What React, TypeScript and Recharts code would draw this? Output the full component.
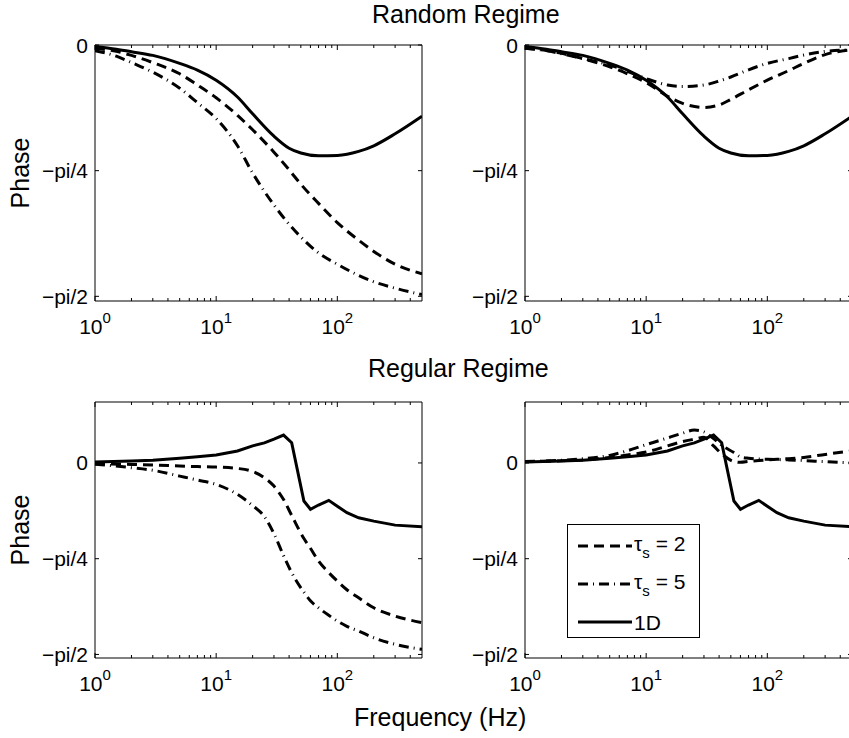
import React from 'react';
import { LineChart, Line, XAxis, YAxis, Legend } from 'recharts';

// frequencies (Hz) sampled on each regime's curves
const randomFreq = [1, 1.5, 2, 3, 5, 7, 10, 15, 20, 30, 40, 50, 70, 100, 150, 200, 300, 500];
const random1D = [-0.01, -0.027, -0.042, -0.065, -0.115, -0.157, -0.22, -0.325, -0.43, -0.57, -0.645, -0.675, -0.692, -0.69, -0.665, -0.63, -0.555, -0.445];
const randomLeftTau2 = [-0.02, -0.04, -0.065, -0.11, -0.18, -0.25, -0.33, -0.44, -0.53, -0.67, -0.78, -0.87, -0.99, -1.11, -1.22, -1.29, -1.37, -1.43];
const randomLeftTau5 = [-0.035, -0.07, -0.11, -0.17, -0.27, -0.36, -0.46, -0.63, -0.8, -1.0, -1.12, -1.2, -1.3, -1.37, -1.44, -1.48, -1.52, -1.56];
const randomRightTau2 = [-0.02, -0.035, -0.052, -0.085, -0.136, -0.18, -0.235, -0.32, -0.365, -0.39, -0.375, -0.34, -0.28, -0.22, -0.16, -0.115, -0.06, -0.03];
const randomRightTau5 = [-0.02, -0.035, -0.055, -0.085, -0.125, -0.165, -0.21, -0.25, -0.26, -0.25, -0.225, -0.2, -0.155, -0.115, -0.085, -0.063, -0.04, -0.03];

const regularFreq = [1, 2, 3, 5, 7, 10, 15, 20, 25, 30, 36, 42, 53, 60, 70, 85, 100, 120, 150, 200, 300, 500];
const regular1D = [0.007, 0.015, 0.022, 0.038, 0.05, 0.065, 0.098, 0.14, 0.165, 0.195, 0.229, 0.166, -0.312, -0.38, -0.345, -0.307, -0.355, -0.408, -0.45, -0.477, -0.51, -0.523];
const regularLeftTau2 = [-0.006, -0.012, -0.017, -0.025, -0.03, -0.034, -0.045, -0.07, -0.121, -0.19, -0.3, -0.43, -0.62, -0.7, -0.805, -0.9, -0.969, -1.04, -1.106, -1.188, -1.256, -1.31];
const regularLeftTau5 = [-0.01, -0.039, -0.06, -0.108, -0.14, -0.176, -0.258, -0.35, -0.44, -0.58, -0.76, -0.9, -1.06, -1.13, -1.188, -1.25, -1.297, -1.34, -1.379, -1.434, -1.488, -1.529];
const regularRightTau2 = [0.01, 0.018, 0.025, 0.045, 0.065, 0.09, 0.14, 0.175, 0.195, 0.21, 0.14, 0.075, 0.012, 0.005, 0.012, 0.02, 0.025, 0.03, 0.035, 0.045, 0.07, 0.1];
const regularRightTau5 = [0.012, 0.022, 0.035, 0.062, 0.1, 0.15, 0.205, 0.245, 0.27, 0.255, 0.2, 0.145, 0.085, 0.05, 0.038, 0.032, 0.03, 0.028, 0.025, 0.02, 0.01, 0.0];

const seriesOrder = ['tau2', 'tau5', 'd1'];
const seriesNames = { tau2: 'τs = 2', tau5: 'τs = 5', d1: '1D' };

const freqTicks = [1, 2, 3, 4, 5, 6, 7, 8, 9, 10, 20, 30, 40, 50, 60, 70, 80, 90, 100, 200, 300, 400];
const majorFreqTicks = [1, 10, 100];
const phaseTicks = [-Math.PI / 2, -Math.PI / 4, 0];
const phaseTickLabels = ['−pi/2', '−pi/4', '0'];

const FONT = '"Liberation Sans", Arial, Helvetica, sans-serif';
const BOX_W = 327;
const BOX_H = 256;
const LEFT_W = 95;

const rows = (freq: number[], tau2: number[], tau5: number[], d1: number[]) =>
  freq.map((f, i) => ({ f, tau2: tau2[i], tau5: tau5[i], d1: d1[i] }));

const BottomTick = ({ x, y, payload }: any) => {
  const major = majorFreqTicks.includes(payload.value);
  return (
    <g>
      <line x1={x} y1={y} x2={x} y2={y - (major ? 5 : 3)} stroke="#000" />
      {major && (
        <text x={x} y={y + 33} textAnchor="middle" fontSize={21} fontFamily={FONT} fill="#000">
          10<tspan dy={-11} fontSize={15}>{Math.round(Math.log10(payload.value))}</tspan>
        </text>
      )}
    </g>
  );
};

const TopTick = ({ x, y, payload }: any) => {
  const major = majorFreqTicks.includes(payload.value);
  return <line x1={x} y1={y} x2={x} y2={y + (major ? 5 : 3)} stroke="#000" />;
};

const LeftTick = ({ x, y, payload }: any) => {
  const i = phaseTicks.findIndex((t) => Math.abs(t - payload.value) < 1e-9);
  return (
    <g>
      <line x1={x} y1={y} x2={x + 4} y2={y} stroke="#000" />
      <text x={x - 7} y={y} textAnchor="end" dominantBaseline="central" fontSize={21} fontFamily={FONT} fill="#000">
        {phaseTickLabels[i]}
      </text>
    </g>
  );
};

const RightTick = ({ x, y }: any) => <line x1={x} y1={y} x2={x - 4} y2={y} stroke="#000" />;

const PhaseLabel = ({ viewBox }: any) => {
  const cx = 29;
  const cy = viewBox.y + viewBox.height / 2;
  return (
    <text x={cx} y={cy} transform={`rotate(-90 ${cx} ${cy})`} textAnchor="middle" fontSize={25} fontFamily={FONT} fill="#000">
      Phase
    </text>
  );
};

const seriesLabel = (name: string) =>
  name.startsWith('τs') ? (
    <span>
      τ<sub style={{ fontSize: 15, verticalAlign: -7 }}>s</sub>
      {name.slice(2)}
    </span>
  ) : (
    <span>{name}</span>
  );

const LegendBox = ({ payload }: any) => {
  const items = [...(payload || [])].sort((a: any, b: any) => seriesOrder.indexOf(a.dataKey) - seriesOrder.indexOf(b.dataKey));
  return (
    <div style={{ width: 133, height: 114, border: '1px solid #000', background: '#fff', boxSizing: 'border-box', paddingTop: 2 }}>
      {items.map((entry: any) => (
        <div key={entry.value} style={{ display: 'flex', alignItems: 'center', height: 38, paddingLeft: 10 }}>
          <svg width={54} height={10}>
            <line x1={0} y1={5} x2={54} y2={5} stroke="#000" strokeWidth={3} strokeDasharray={entry.payload?.strokeDasharray} />
          </svg>
          <span style={{ fontSize: 21, fontFamily: FONT, marginLeft: 2, lineHeight: 1 }}>{seriesLabel(entry.value)}</span>
        </div>
      ))}
    </div>
  );
};

interface PanelProps {
  left: number;
  top: number;
  data: any[];
  domain: [number, number];
  phaseLabel?: boolean;
  legend?: boolean;
  kinked?: boolean;
}

const Panel = ({ left, top, data, domain, phaseLabel, legend, kinked }: PanelProps) => (
  <div style={{ position: 'absolute', left, top }}>
    <LineChart width={LEFT_W + BOX_W + 10} height={10 + BOX_H + 40} data={data} margin={{ top: 0, right: 0, bottom: 0, left: 0 }}>
      <XAxis
        xAxisId="b"
        dataKey="f"
        type="number"
        scale="log"
        domain={[1, 500]}
        allowDataOverflow
        ticks={freqTicks}
        interval={0}
        height={40}
        tickSize={0}
        tickMargin={0}
        tickLine={false}
        axisLine={{ stroke: '#000' }}
        tick={<BottomTick />}
      />
      <XAxis
        xAxisId="t"
        orientation="top"
        dataKey="f"
        type="number"
        scale="log"
        domain={[1, 500]}
        allowDataOverflow
        ticks={freqTicks}
        interval={0}
        height={10}
        tickSize={0}
        tickMargin={0}
        tickLine={false}
        axisLine={{ stroke: '#000' }}
        tick={<TopTick />}
      />
      <YAxis
        yAxisId="l"
        type="number"
        domain={domain}
        allowDataOverflow
        ticks={phaseTicks}
        interval={0}
        width={LEFT_W}
        tickSize={0}
        tickMargin={0}
        tickLine={false}
        axisLine={{ stroke: '#000' }}
        tick={<LeftTick />}
        label={phaseLabel ? <PhaseLabel /> : undefined}
      />
      <YAxis
        yAxisId="r"
        orientation="right"
        type="number"
        domain={domain}
        allowDataOverflow
        ticks={phaseTicks}
        interval={0}
        width={10}
        tickSize={0}
        tickMargin={0}
        tickLine={false}
        axisLine={{ stroke: '#000' }}
        tick={<RightTick />}
      />
      {legend && (
        <Legend
          layout="vertical"
          align="center"
          verticalAlign="middle"
          wrapperStyle={{ left: 137, top: 132.5, width: 133 }}
          content={<LegendBox />}
        />
      )}
      <Line xAxisId="b" yAxisId="l" name={seriesNames.tau2} dataKey="tau2" type="monotone" stroke="#000" strokeWidth={3} strokeDasharray="10 6" dot={false} activeDot={false} isAnimationActive={false} />
      <Line xAxisId="b" yAxisId="l" name={seriesNames.tau5} dataKey="tau5" type="monotone" stroke="#000" strokeWidth={3} strokeDasharray="10 5 1 5" dot={false} activeDot={false} isAnimationActive={false} />
      <Line xAxisId="b" yAxisId="l" name={seriesNames.d1} dataKey="d1" type={kinked ? 'linear' : 'monotone'} stroke="#000" strokeWidth={3} dot={false} activeDot={false} isAnimationActive={false} />
    </LineChart>
  </div>
);

const titleStyle: React.CSSProperties = {
  position: 'absolute',
  fontSize: 25,
  lineHeight: '25px',
  fontFamily: FONT,
  whiteSpace: 'nowrap',
  color: '#000',
};

export default function App() {
  return (
    <div style={{ position: 'absolute', left: 0, top: 0, width: 849, height: 738, overflow: 'hidden', background: '#fff' }}>
      <div style={{ ...titleStyle, left: 372, top: 2 }}>Random Regime</div>
      <div style={{ ...titleStyle, left: 368, top: 356 }}>Regular Regime</div>
      <div style={{ ...titleStyle, left: 354, top: 705 }}>Frequency (Hz)</div>
      <Panel left={0} top={35} data={rows(randomFreq, randomLeftTau2, randomLeftTau5, random1D)} domain={[-1.6, 0]} phaseLabel />
      <Panel left={430} top={35} data={rows(randomFreq, randomRightTau2, randomRightTau5, random1D)} domain={[-1.6, 0]} />
      <Panel left={0} top={391.5} data={rows(regularFreq, regularLeftTau2, regularLeftTau5, regular1D)} domain={[-1.6, 0.5]} phaseLabel kinked />
      <Panel left={430} top={391.5} data={rows(regularFreq, regularRightTau2, regularRightTau5, regular1D)} domain={[-1.6, 0.5]} legend kinked />
    </div>
  );
}
